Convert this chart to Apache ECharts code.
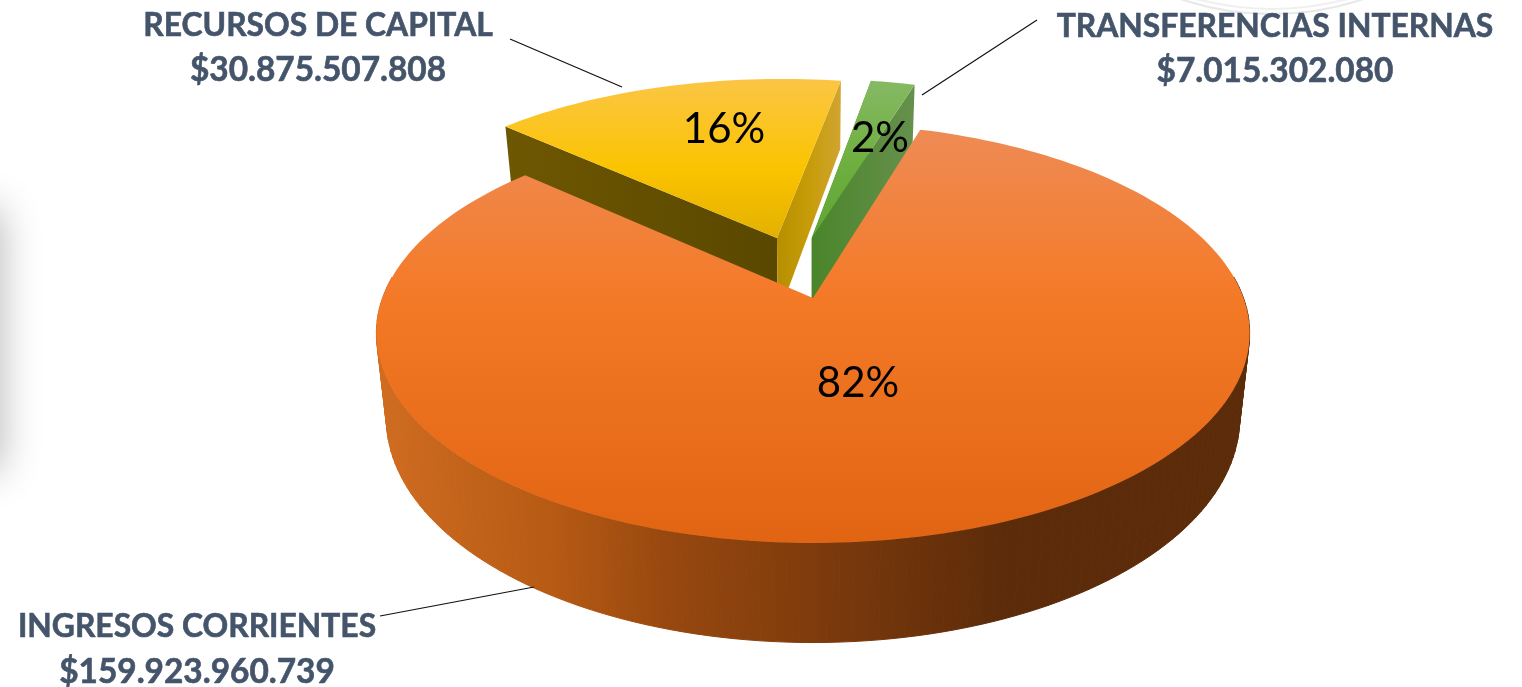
<!DOCTYPE html>
<html><head><meta charset="utf-8">
<style>html,body{margin:0;padding:0;background:#fff;overflow:hidden}#c{width:1522px;height:687px}</style>
<script src="https://cdn.jsdelivr.net/npm/echarts@6/dist/echarts.min.js"></script>
</head><body><div id="c"></div>
<script>
const categories = ['INGRESOS CORRIENTES', 'RECURSOS DE CAPITAL', 'TRANSFERENCIAS INTERNAS'];
const amounts = ['$159.923.960.739', '$30.875.507.808', '$7.015.302.080'];
const shares = [82, 16, 2];

// ---- layout and style, separate from the data ----
const CX = 813, CY = 298, A = 204, B = 430.5, P = -0.167, H = 83, SHRINK = 0.977, START = 16.8;
const explode = [[0, 0], [-0.088, -0.309], [-0.003, -0.309]];
const pctPos = [[858, 383], [724, 129], [880, 138]];
const labelPos = [[197, 627, 672], [318, 26, 70], [1275, 27, 71]];
const leaders = [[380, 616, 534, 587], [510, 39, 622, 87], [1037, 20, 922, 95]];
const FONT = 'Lato, Carlito, sans-serif';
const lin = (x, y, x2, y2, stops) => ({type: 'linear', x, y, x2, y2, global: true,
  colorStops: stops.map(s => ({offset: s[0], color: s[1]}))});
const topFill = [
  lin(0, 130, 0, 543, [[0, '#EE8B55'], [0.4, '#F47A28'], [1, '#E16412']]),
  lin(0, 81, 0, 240, [[0, '#FBC544'], [0.55, '#FBC400'], [1, '#E2B000']]),
  lin(0, 82, 0, 238, [[0, '#85B963'], [0.5, '#6FB040'], [1, '#5FA535']])
];
const rimFill = lin(380, 0, 1250, 0, [[0, '#CF6C20'], [0.2, '#B65A14'], [0.33, '#98480F'], [0.5, '#7E3B0C'], [0.72, '#5C2B0A'], [1, '#5C2C0A']]);
const cutA = [null,
  lin(507, 0, 776, 0, [[0, '#6E5702'], [1, '#5A4800']]),
  lin(812, 0, 875, 0, [[0, '#4A852A'], [1, '#5C9040']])];
const cutB = [null,
  lin(776, 0, 843, 0, [[0, '#B68E00'], [0.5, '#C79C08'], [1, '#D1A534']]),
  lin(812, 0, 913, 0, [[0, '#4A852A'], [1, '#66904C']])];

function project(px, py, lift) {
  const w = 1 + P * py, s = lift ? SHRINK : 1;
  return [CX + B * px / w * s, CY + A * py / w + (lift ? H / w : 0)];
}
function rimPoint(i, deg, lift) {
  const r = deg * Math.PI / 180;
  return project(Math.sin(r) + explode[i][0], -Math.cos(r) + explode[i][1], lift);
}
function arc(i, from, to, lift) {
  const n = Math.max(8, Math.ceil(Math.abs(to - from) / 1.5)), out = [];
  for (let k = 0; k <= n; k++) out.push(rimPoint(i, from + (to - from) * k / n, lift));
  return out;
}
const total = shares.reduce((a, b) => a + b, 0);

function renderItem(params, api) {
  const i = params.dataIndex, v = api.value(1);
  let before = 0;
  for (let k = 0; k < i; k++) before += shares[k];
  const a0 = START + before / total * 360, a1 = a0 + v / total * 360;
  const apexT = project(explode[i][0], explode[i][1], false);
  const apexB = project(explode[i][0], explode[i][1], true);
  const base = i === 0 ? 20 : 1;   // the large slice stands in front of the pulled-out ones
  const children = [];
  const poly = (points, fill, z2, stroke) => children.push({type: 'polygon', z2, shape: {points},
    style: {fill, stroke: stroke ? fill : null, lineWidth: stroke ? 1 : 0}});

  if (i === 0) {
    // outer wall: only the part of the rim that faces the viewer, as narrow quads
    const from = Math.max(a0, 84), to = Math.min(a1, 276);
    const t = arc(i, from, to, false), b = arc(i, from, to, true);
    for (let k = 0; k < t.length - 1; k++) {
      poly([t[k], t[k + 1], b[k + 1], b[k]], rimFill, base, true);
    }
  } else {
    const e0T = rimPoint(i, a0, false), e0B = rimPoint(i, a0, true);
    const e1T = rimPoint(i, a1, false), e1B = rimPoint(i, a1, true);
    poly([apexT, e0T, e0B, apexB], cutA[i], base);
    poly([apexT, e1T, e1B, apexB], cutB[i], base + 1);
  }
  poly([apexT].concat(arc(i, a0, a1, false)), topFill[i], base + 2);

  const p = pctPos[i];
  children.push({type: 'text', z2: 60, style: {x: p[0], y: p[1], text: Math.round(v) + '%',
    align: 'center', verticalAlign: 'middle', fill: '#000', font: '42px ' + FONT}});
  const l = labelPos[i];
  children.push({type: 'text', z2: 60, style: {x: l[0], y: l[1], text: categories[i],
    align: 'center', verticalAlign: 'middle', fill: '#44546A', stroke: '#44546A', lineWidth: 0.6, font: 'bold 31.8px ' + FONT}});
  children.push({type: 'text', z2: 60, style: {x: l[0], y: l[2], text: amounts[i],
    align: 'center', verticalAlign: 'middle', fill: '#44546A', stroke: '#44546A', lineWidth: 0.6, font: 'bold 33.4px ' + FONT}});
  const q = leaders[i];
  children.push({type: 'line', z2: 50, shape: {x1: q[0], y1: q[1], x2: q[2], y2: q[3]}, style: {stroke: '#111', lineWidth: 1.2}});
  return {type: 'group', children};
}

const chart = echarts.init(document.getElementById('c'), null, {renderer: 'canvas'});
chart.setOption({
  backgroundColor: '#fff',
  animation: false,
  graphic: [
    {type: 'rect', z: -1, shape: {x: -60, y: 210, width: 60, height: 260},
      style: {fill: '#999', shadowBlur: 40, shadowColor: 'rgba(0,0,0,0.3)'}},
    {type: 'circle', z: -1, shape: {cx: 1272, cy: -273, r: 287}, style: {fill: 'none', stroke: 'rgba(190,190,190,0.35)', lineWidth: 2}},
    {type: 'circle', z: -1, shape: {cx: 1272, cy: -278, r: 287}, style: {fill: 'none', stroke: 'rgba(190,190,190,0.25)', lineWidth: 2}}
  ],
  series: [{
    type: 'custom',
    coordinateSystem: 'none',
    silent: true,
    clip: false,
    renderItem,
    data: shares.map((v, i) => [i, v])
  }]
});
</script></body></html>
